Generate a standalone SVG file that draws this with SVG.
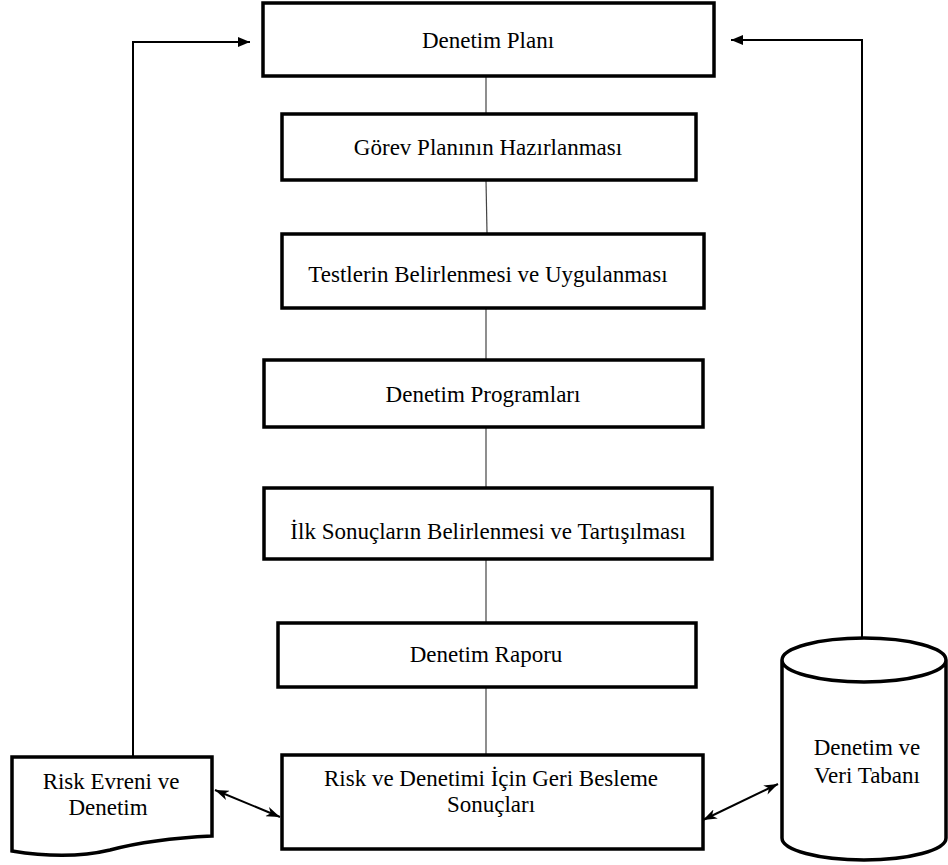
<svg xmlns="http://www.w3.org/2000/svg" width="948" height="865" viewBox="0 0 948 865">
<style>
.box{fill:#fff;stroke:#000;stroke-width:3.5}
.t{font-family:'Liberation Serif','Times New Roman',Times,'DejaVu Serif',serif;font-size:23px;fill:#000;text-anchor:middle}
.flow{stroke:#444;stroke-width:1.2;fill:none}
.fb{stroke:#000;stroke-width:2;fill:none}
</style>
<defs>
<marker id="ah" viewBox="0 0 12 10" refX="12" refY="5" markerWidth="12" markerHeight="10" markerUnits="userSpaceOnUse" orient="auto">
<path d="M0,0 L12,5 L0,10 z" fill="#000"/>
</marker>
<marker id="dh" viewBox="0 0 14 10" refX="14" refY="5" markerWidth="14" markerHeight="10" markerUnits="userSpaceOnUse" orient="auto-start-reverse">
<path d="M0,0 L14,5 L0,10 L4,5 z" fill="#000"/>
</marker>
</defs>
<rect width="948" height="865" fill="#fff"/>
<g id="connectors">
<line class="flow" x1="486" y1="76" x2="486" y2="113"/>
<line class="flow" x1="486" y1="180" x2="487" y2="233"/>
<line class="flow" x1="486" y1="308" x2="486" y2="359"/>
<line class="flow" x1="486" y1="427" x2="486" y2="487"/>
<line class="flow" x1="486" y1="559" x2="486" y2="622"/>
<line class="flow" x1="486" y1="687" x2="486" y2="754"/>
<polyline class="fb" points="133,757 133,42 250,42" marker-end="url(#ah)"/>
<polyline class="fb" points="862,638 862,40 731,40" marker-end="url(#ah)"/>
<line class="fb" x1="215" y1="790" x2="280" y2="817" marker-start="url(#dh)" marker-end="url(#dh)"/>
<line class="fb" x1="703" y1="820" x2="778" y2="784" marker-start="url(#dh)" marker-end="url(#dh)"/>
</g>
<g id="n1"><rect class="box" x="263" y="3" width="451" height="73"/><text class="t" x="488" y="48">Denetim Planı</text></g>
<g id="n2"><rect class="box" x="282" y="114" width="414" height="66"/><text class="t" x="488" y="155">Görev Planının Hazırlanması</text></g>
<g id="n3"><rect class="box" x="282" y="234" width="422" height="74"/><text class="t" x="488" y="282">Testlerin Belirlenmesi ve Uygulanması</text></g>
<g id="n4"><rect class="box" x="264" y="360" width="439" height="67"/><text class="t" x="483" y="402">Denetim Programları</text></g>
<g id="n5"><rect class="box" x="264" y="488" width="448" height="71"/><text class="t" x="488" y="539">İlk Sonuçların Belirlenmesi ve Tartışılması</text></g>
<g id="n6"><rect class="box" x="278" y="623" width="418" height="64"/><text class="t" x="486" y="662">Denetim Raporu</text></g>
<g id="n7"><rect class="box" x="282" y="755" width="421" height="94"/><text class="t" x="491" y="786">Risk ve Denetimi İçin Geri Besleme</text><text class="t" x="491" y="812">Sonuçları</text></g>
<g id="n8"><path class="box" d="M12,757 L212,757 L212,836 C170,838 140,842 110,850 C85,856 55,858 12,851 Z"/><text class="t" x="111" y="789">Risk Evreni ve</text><text class="t" x="108" y="815">Denetim</text></g>
<g id="n9"><path class="box" d="M782,660 L782,838 A82,22 0 0 0 946,838 L946,660 A82,22 0 0 0 782,660 A82,22 0 0 0 946,660"/><text class="t" x="867" y="755">Denetim ve</text><text class="t" x="867" y="783">Veri Tabanı</text></g>
</svg>
